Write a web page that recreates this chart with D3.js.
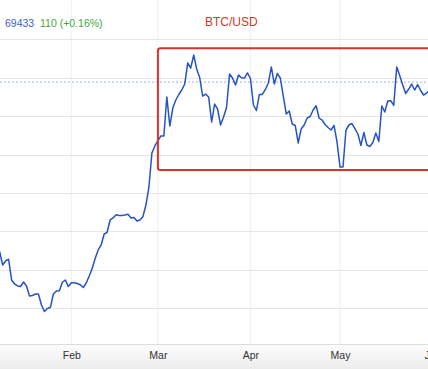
<!DOCTYPE html>
<html><head><meta charset="utf-8">
<script src="https://cdn.jsdelivr.net/npm/d3@7"></script>
<style>body{margin:0;background:#fff;overflow:hidden}svg{display:block;font-family:"Liberation Sans",Arial,sans-serif}</style>
</head><body><div id="chart"></div>
<script>
const startDate = "2024-01-08";
const closes = [
47370,45630,46160,46380,43690,43170,42910,42840,43420,42910,41600,41670,41860,41860,40430,39590,39980,40110,41860,42250,42290,43390,43680,42840,
43330,43330,43230,43070,42710,43290,44200,45180,46480,47590,48240,49670,49890,51490,51750,52180,52080,52080,52140,52230,51750,51820,51360,51490,51950,53440,55780,60210,61120,
61770,62420,62420,67490,63720,66060,67100,67820,68400,69180,71920,71260,72960,71140,70030,67620,67880,67490,64240,66580,65930,63850,64890,66130,70490,69960,69050,70360,70000,69960,70620,
69900,66450,65740,67820,67820,68470,69310,71400,69180,70550,69960,67620,65280,65670,63980,63790,61510,63330,63850,64760,64950,65800,66350,64760,64500,63910,63520,63200,63790,61640,
58390,58390,63200,63850,64040,63390,62680,61180,62870,61250,61050,61570,62810,61700,66320,65540,66970,67010,66390,71400,70290,69050,67950,68530,69180,68400,69120,68340,67750,68010,68400
];
const yTicks = [75000,70000,65000,60000,55000,50000,45000,40000];
const monthTicks = ["2024-02-01","2024-03-01","2024-04-01","2024-05-01","2024-06-01"];
const monthLabels = ["Feb","Mar","Apr","May","Jun"];
const lastPrice = 69433, change = 110, changePct = 0.16;
const title = "BTC/USD";
const boxStart = "2024-03-01", boxTop = 73830, boxBottom = 58000;

const W = 428, H = 369, axisY = 344;
const parse = d3.utcParse("%Y-%m-%d");
const t0 = parse(startDate);
const data = closes.map((v,i)=>({date:d3.utcDay.offset(t0,i), v}));

const x = d3.scaleUtc().domain([parse("2024-02-01"), parse("2024-05-01")]).range([71.3, 340.0]);
const y = d3.scaleLinear().domain([40000, 75000]).range([308.3, 39.3]);

const svg = d3.select("#chart").append("svg").attr("width",W).attr("height",H);
const defs = svg.append("defs");
const g = defs.append("linearGradient").attr("id","ax").attr("x1",0).attr("x2",0).attr("y1",0).attr("y2",1);
g.append("stop").attr("offset","0%").attr("stop-color","#fdfdfd");
g.append("stop").attr("offset","100%").attr("stop-color","#ececec");

// vertical grid
svg.append("g").selectAll("line").data(monthTicks.map(parse)).join("line")
  .attr("x1",d=>x(d)).attr("x2",d=>x(d)).attr("y1",0).attr("y2",axisY)
  .attr("stroke","#efefef").attr("stroke-width",1);
// horizontal grid
svg.append("g").selectAll("line").data(yTicks).join("line")
  .attr("x1",0).attr("x2",W).attr("y1",d=>Math.round(y(d))+0.5).attr("y2",d=>Math.round(y(d))+0.5)
  .attr("stroke","#e6e6e6").attr("stroke-width",1);

// axis band
svg.append("rect").attr("x",0).attr("y",axisY).attr("width",W).attr("height",H-axisY).attr("fill","url(#ax)");
svg.append("line").attr("x1",0).attr("x2",W).attr("y1",axisY+0.5).attr("y2",axisY+0.5).attr("stroke","#dcdcdc");
const xAxis = d3.axisBottom(x).tickValues(monthTicks.map(parse)).tickSize(0)
  .tickFormat((d,i)=>monthLabels[i]);
const ax = svg.append("g").attr("transform",`translate(0,${axisY})`).call(xAxis);
ax.select(".domain").remove();
ax.selectAll("text").attr("dy",0).attr("y",15).attr("font-size","10.5px").attr("fill","#333").attr("font-family","Liberation Sans, Arial, sans-serif");

// last price dashed line
svg.append("line").attr("x1",0).attr("x2",W).attr("y1",y(lastPrice)).attr("y2",y(lastPrice))
  .attr("stroke","#9fb3dc").attr("stroke-width",1).attr("stroke-dasharray","2,2");

// price line
const line = d3.line().x(d=>x(d.date)).y(d=>y(d.v));
svg.append("path").datum(data).attr("d",line).attr("fill","none")
  .attr("stroke","#2653c4").attr("stroke-width",1.5).attr("stroke-linejoin","round");

// highlight box
const bx = x(parse(boxStart));
svg.append("rect").attr("x",bx).attr("y",y(boxTop)).attr("width",W+10-bx).attr("height",y(boxBottom)-y(boxTop))
  .attr("rx",2.5).attr("fill","none").attr("stroke","#d8332b").attr("stroke-width",2);

// header text
svg.append("text").attr("x",-4).attr("y",27).attr("font-size","10.5px").attr("fill","#3a5fc8").text("r");
svg.append("text").attr("x",5).attr("y",27).attr("font-size","10.5px").attr("fill","#3a5fc8").text(String(lastPrice));
svg.append("text").attr("x",40).attr("y",27).attr("font-size","10.5px").attr("fill","#45a83c")
  .text(`${change} (+${changePct.toFixed(2)}%)`);
svg.append("text").attr("x",205).attr("y",26).attr("font-size","12px").attr("fill","#d8332b").text(title);
</script></body></html>
